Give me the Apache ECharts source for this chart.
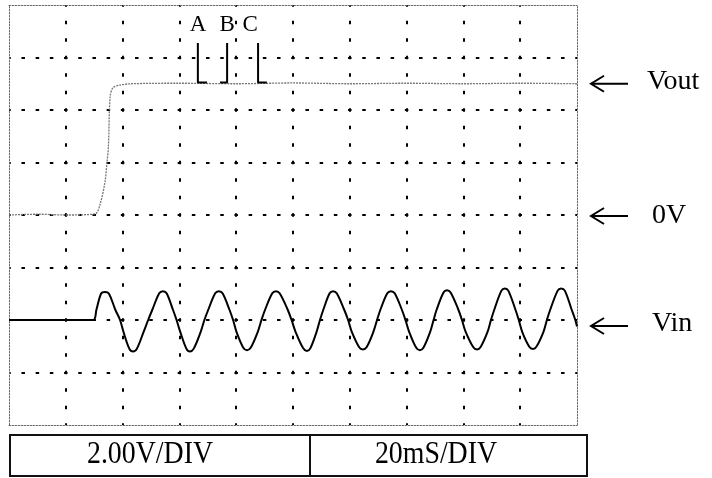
<!DOCTYPE html>
<html><head><meta charset="utf-8">
<script src="https://cdn.jsdelivr.net/npm/echarts@6/dist/echarts.min.js"></script>
<style>html,body{margin:0;padding:0;background:#fff}#c{width:712px;height:478px}</style>
</head><body><div id="c"></div>
<script>
// ---- data (time in ms, screen voltage in V, 2 V/div, 20 ms/div) ----
const timeRange = [0, 200];
const timeStep = 20;
const voltRange = [-8, 8];
const voltStep = 2;

// Vout trace: 0 V, step rising to about 5 V
const voutTrace = [[0,0],[10,0.03],[20,0],[30.3,0.04],[32.0,0.38],[33.8,1.26],[34.5,2.0],[35.0,2.6],
  [35.6,4.5],[36.6,4.85],[39.1,4.95],[43,5.0],[60,5.02],[80,5.0],[100,5.03],[120,5.0],[140,5.02],
  [160,5.0],[180,5.02],[200,5.0]];

// Vin trace (displayed 2 div below 0 V), read at crossings, flanks and peaks
const vinTrace = [[0,-4],[10,-4],[20,-4],[29.6,-4],[30.8,-3.6],[32.4,-3.0],[33.8,-2.93],[35.2,-3.0],[37.4,-3.6],[39.1,-4],
  [40.3,-4.45],[42.4,-5.1],[43.7,-5.2],[45.0,-5.1],[47.4,-4.45],[49.0,-4],[50.5,-3.6],[52.9,-2.98],[54.2,-2.9],[55.5,-2.98],[57.7,-3.6],[59.0,-4],
  [60.3,-4.45],[62.5,-5.1],[63.7,-5.2],[65.0,-5.1],[67.5,-4.45],[68.8,-4],[70.2,-3.6],[72.6,-2.98],[73.9,-2.9],[75.2,-2.98],[77.6,-3.6],[78.9,-4],
  [80.1,-4.45],[82.5,-5.06],[83.8,-5.15],[85.1,-5.06],[87.6,-4.45],[88.9,-4],[90.2,-3.6],[92.7,-2.98],[94.0,-2.9],[95.3,-2.98],[98.1,-3.6],[99.5,-4],
  [100.9,-4.45],[103.6,-5.08],[104.9,-5.18],[106.1,-5.08],[108.3,-4.45],[109.5,-4],[110.7,-3.6],[112.9,-2.98],[114.1,-2.9],[115.4,-2.98],[118.0,-3.6],[119.4,-4],
  [120.7,-4.45],[123.3,-5.04],[124.6,-5.12],[125.9,-5.04],[128.3,-4.45],[129.6,-4],[130.8,-3.6],[133.2,-2.98],[134.5,-2.9],[135.8,-2.98],[138.3,-3.6],[139.6,-4],
  [140.9,-4.45],[143.4,-5.06],[144.7,-5.15],[145.9,-5.06],[148.3,-4.45],[149.5,-4],[150.6,-3.6],[153.0,-2.95],[154.2,-2.87],[155.5,-2.95],[158.2,-3.6],[159.5,-4],
  [160.8,-4.45],[163.5,-5.04],[164.8,-5.12],[166.0,-5.04],[168.5,-4.45],[169.7,-4],[170.9,-3.6],[173.4,-2.88],[174.6,-2.8],[175.8,-2.88],[178.3,-3.6],[179.5,-4],
  [180.7,-4.45],[183.2,-5.02],[184.5,-5.1],[185.7,-5.02],[188.2,-4.45],[189.4,-4],[190.6,-3.6],[193.2,-2.88],[194.4,-2.8],[195.7,-2.88],[198.1,-3.6],[199.4,-4],
  [200,-4.25]];

// cursor markers A, B, C
const markerNames = ['A', 'B', 'C'];
const markerTime = [66.5, 76.8, 87.7];
const markerFootTime = [69.7, 74.3, 90.8];
const markerTopV = 6.55;
const markerBaseV = 5.05;
const markerLabelTime = [66.6, 76.8, 84.9];
const markerLabelV = 7.25;

// right-hand level labels
const levelNames = ['Vout', '0V', 'Vin'];
const levelVolts = [5.0, 0, -4];
const levelArrowShift = [0, 1, 6];
const levelTextShift = [-2, 1, 4];

// readout boxes
const readoutTexts = ['2.00V/DIV', '20mS/DIV'];

const serif = '"Liberation Serif", "DejaVu Serif", serif';
const borderStyle = { color: '#666', width: 1, type: [1.5, 1.5] };

function axisCommon(extra) {
  return Object.assign({
    type: 'value',
    axisLine: { show: true, onZero: false, lineStyle: borderStyle },
    axisTick: { show: false },
    axisLabel: { show: false },
    splitLine: { show: false }
  }, extra);
}

const series = [
  { name: 'Vout', type: 'line', data: voutTrace, smooth: 0.3, symbol: 'none',
    lineStyle: { color: '#777', width: 1.3, type: [2, 1] }, z: 3 },
  { name: 'Vin', type: 'line', data: vinTrace, smooth: 0.35, symbol: 'none',
    lineStyle: { color: '#000', width: 2 }, z: 4 }
];
markerNames.forEach((n, i) => {
  series.push({
    name: 'cursor ' + n, type: 'line', symbol: 'none', z: 5,
    data: [[markerTime[i], markerTopV], [markerTime[i], markerBaseV], [markerFootTime[i], markerBaseV]],
    lineStyle: { color: '#000', width: 2 }
  });
});
series.push({
  name: 'cursor labels', type: 'scatter', symbolSize: 2, itemStyle: { color: 'rgba(0,0,0,0)' }, z: 6,
  data: markerNames.map((n, i) => [markerLabelTime[i], markerLabelV, n]),
  label: { show: true, position: 'inside', formatter: p => p.value[2],
    color: '#000', opacity: 1, textBorderWidth: 0, textBorderColor: 'transparent',
    fontFamily: serif, fontSize: 23 }
});

const chart = echarts.init(document.getElementById('c'), null, { renderer: 'canvas' });
chart.setOption({
  animation: false,
  backgroundColor: '#fff',
  grid: { left: 9, top: 5, width: 568, height: 420, containLabel: false },
  xAxis: [
    axisCommon({ min: timeRange[0], max: timeRange[1], interval: timeStep, position: 'bottom',
      splitLine: { show: true, showMinLine: false, showMaxLine: false,
        lineStyle: { color: '#000', width: 2, type: [3.5, 14], dashOffset: 1.75 } } }),
    axisCommon({ min: timeRange[0], max: timeRange[1], interval: timeStep, position: 'top' })
  ],
  yAxis: [
    axisCommon({ min: voltRange[0], max: voltRange[1], interval: voltStep, position: 'left',
      splitLine: { show: true, showMinLine: false, showMaxLine: false,
        lineStyle: { color: '#000', width: 2, type: [3.5, 10.7], dashOffset: 1.75 } } }),
    axisCommon({ min: voltRange[0], max: voltRange[1], interval: voltStep, position: 'right' })
  ],
  series: series
});

// annotations: arrows and labels to the right, readout box below
const graphics = [];
levelNames.forEach((name, i) => {
  const py = chart.convertToPixel({ gridIndex: 0 }, [timeRange[1], levelVolts[i]])[1];
  const ay = py + levelArrowShift[i];
  graphics.push({ type: 'line', shape: { x1: 591, y1: ay, x2: 628, y2: ay },
    style: { stroke: '#000', lineWidth: 2 } });
  graphics.push({ type: 'polyline', shape: { points: [[604, ay - 8], [591, ay], [604, ay + 8]] },
    style: { stroke: '#000', lineWidth: 2, fill: null } });
  graphics.push({ type: 'text', x: name === 'Vout' ? 647 : 652, y: py + levelTextShift[i],
    style: { text: name, fontFamily: serif, fontSize: 28, fill: '#000',
      textAlign: 'left', textVerticalAlign: 'middle' } });
});
graphics.push({ type: 'rect', shape: { x: 10, y: 435, width: 577, height: 41 },
  style: { stroke: '#111', lineWidth: 2, fill: null } });
graphics.push({ type: 'line', shape: { x1: 310, y1: 435, x2: 310, y2: 476 },
  style: { stroke: '#111', lineWidth: 2 } });
const readoutX = [150, 436];
readoutTexts.forEach((t, i) => {
  graphics.push({ type: 'text', x: readoutX[i], y: 455, scaleX: 0.87, originX: 0, originY: 0,
    style: { text: t, fontFamily: serif, fontSize: 32, fill: '#000',
      textAlign: 'center', textVerticalAlign: 'middle' } });
});
chart.setOption({ graphic: graphics });
</script>
</body></html>
